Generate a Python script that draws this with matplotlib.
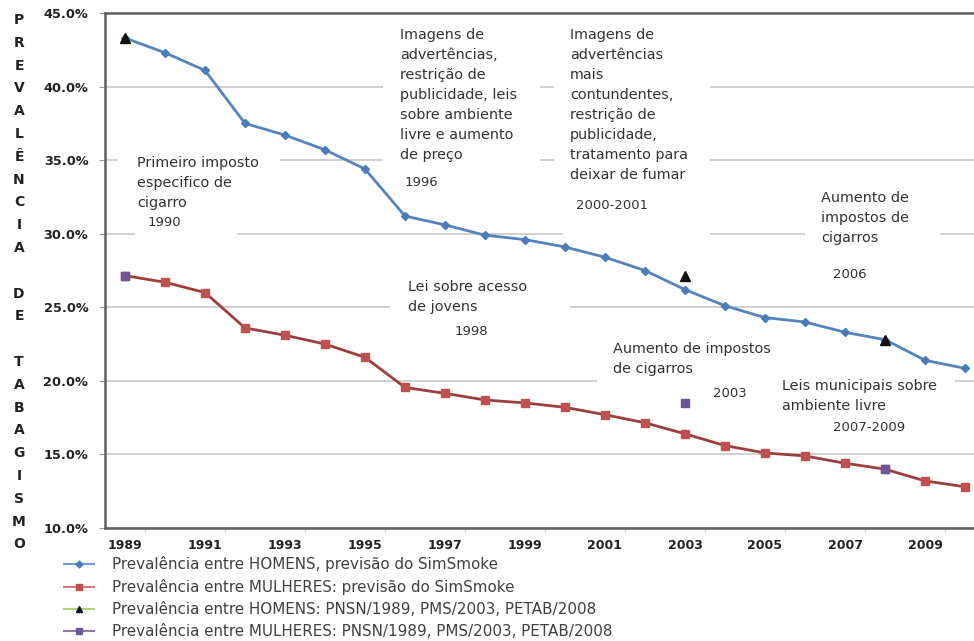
import matplotlib
matplotlib.use("Agg")
import matplotlib.pyplot as plt
from matplotlib.patches import Rectangle
from matplotlib.lines import Line2D

# ---------------- data ----------------
years = list(range(1989, 2011))
men_sim = [43.3, 42.3, 41.1, 37.5, 36.7, 35.7, 34.4, 31.2, 30.6, 29.9, 29.6,
           29.1, 28.4, 27.5, 26.2, 25.1, 24.3, 24.0, 23.3, 22.8, 21.4, 20.85]
women_sim = [27.15, 26.7, 26.0, 23.6, 23.1, 22.5, 21.6, 19.55, 19.15, 18.7, 18.5,
             18.2, 17.7, 17.15, 16.4, 15.6, 15.1, 14.9, 14.4, 14.0, 13.2, 12.8]
survey_years = [1989, 2003, 2008]
men_survey = [43.3, 27.1, 22.8]
women_survey = [27.15, 18.5, 14.0]

yticks = [10, 15, 20, 25, 30, 35, 40, 45]
xtick_years = [1989, 1991, 1993, 1995, 1997, 1999, 2001, 2003, 2005, 2007, 2009]

labels = ["Prevalência entre HOMENS, previsão do SimSmoke",
          "Prevalência entre MULHERES: previsão do SimSmoke",
          "Prevalência entre HOMENS: PNSN/1989, PMS/2003, PETAB/2008",
          "Prevalência entre MULHERES: PNSN/1989, PMS/2003, PETAB/2008"]

ylabel_text = "PREVALÊNCIA DE TABAGISMO"

# ---------------- layout ----------------
W, H = 974, 641
fig = plt.figure(figsize=(W / 100, H / 100), dpi=100)
ax_l, ax_r, ax_t, ax_b = 105, 974, 13, 528
ax = fig.add_axes([ax_l / W, 1 - ax_b / H, (ax_r - ax_l) / W, (ax_b - ax_t) / H])

PX_PER_YEAR = 40.0
x0 = 1988.5
ax.set_xlim(x0, x0 + (ax_r - ax_l) / PX_PER_YEAR)
ax.set_ylim(10, 45)

def dx(px):
    return x0 + (px - ax_l) / PX_PER_YEAR

def dy(py):
    return 45 - (py - ax_t) * 35.0 / (ax_b - ax_t)

# grid
ax.set_axisbelow(True)
ax.yaxis.grid(True, color="#c4c4c4", linewidth=1.1)
ax.xaxis.grid(False)

# spines
for s in ["left", "bottom", "top"]:
    ax.spines[s].set_color("#5f5f5f")
    ax.spines[s].set_linewidth(1.8)
ax.spines["right"].set_visible(False)

ax.set_yticks(yticks)
ax.set_yticklabels([f"{v:.1f}%" for v in yticks], fontsize=9.3, fontweight="bold", color="#222222")
ax.set_xticks(xtick_years)
ax.set_xticklabels([str(y) for y in xtick_years], fontsize=9, fontweight="bold", color="#222222")
ax.tick_params(axis="x", length=0, pad=8)
ax.tick_params(axis="y", length=4, color="#9a9a9a", pad=8)
ax.set_xticks([y + 0.5 for y in xtick_years], minor=True)
ax.tick_params(axis="x", which="minor", length=3, color="#c8c8c8")

# white boxes interrupting the grid (annotation backgrounds)
boxes = [
    (118, 280, 146, 224), (135, 237, 212, 242),
    (383, 540, 20, 196),
    (554, 710, 20, 214), (563, 710, 195, 243),
    (805, 940, 186, 284),
    (390, 570, 276, 342),
    (597, 780, 338, 402),
    (780, 955, 372, 438),
]
for (a, b, c, d) in boxes:
    ax.add_patch(Rectangle((dx(a), dy(d)), dx(b) - dx(a), dy(c) - dy(d),
                           facecolor="white", edgecolor="none", zorder=1))

# data series
ax.plot(years, men_sim, color="#5584bd", linewidth=2, marker="D", markersize=4.5,
        markerfacecolor="#4a7cb8", markeredgecolor="#4a7cb8", zorder=3)
ax.plot(years, women_sim, color="#9c3f3c", linewidth=2, marker="s", markersize=6,
        markerfacecolor="#c0504d", markeredgecolor="#c0504d", zorder=3)
ax.plot(survey_years, men_survey, linestyle="none", marker="^", markersize=6.5,
        markerfacecolor="#111111", markeredgecolor="#111111", zorder=4)
ax.plot(survey_years, women_survey, linestyle="none", marker="s", markersize=6,
        markerfacecolor="#6e5696", markeredgecolor="#6e5696", zorder=4)

# annotations
tc = "#333333"
afs = 10.4
def note(px, py_top, txt, ls=1.55):
    ax.text(dx(px), dy(py_top), txt, ha="left", va="top", fontsize=afs,
            color=tc, linespacing=ls, zorder=5)

def year_note(px_l, py_c, txt):
    ax.text(dx(px_l), dy(py_c), txt, ha="left", va="center", fontsize=9.5,
            color=tc, zorder=5)

note(137, 156, "Primeiro imposto\nespecifico de\ncigarro")
year_note(148, 222, "1990")
note(400, 28, "Imagens de\nadvertências,\nrestrição de\npublicidade, leis\nsobre ambiente\nlivre e aumento\nde preço")
year_note(405, 182, "1996")
note(570, 28, "Imagens de\nadvertências\nmais\ncontundentes,\nrestrição de\npublicidade,\ntratamento para\ndeixar de fumar")
year_note(576, 205, "2000-2001")
note(821, 191, "Aumento de\nimpostos de\ncigarros")
year_note(833, 274, "2006")
note(408, 280, "Lei sobre acesso\nde jovens")
year_note(455, 331, "1998")
note(613, 342, "Aumento de impostos\nde cigarros")
year_note(713, 393, "2003")
note(782, 379, "Leis municipais sobre\nambiente livre")
year_note(833, 427, "2007-2009")

# vertical stacked axis title
step = 22.8
for i, ch in enumerate(ylabel_text):
    if ch == " ":
        continue
    fig.text(19 / W, 1 - (20 + i * step) / H, ch, ha="center", va="center",
             fontsize=10, fontweight="bold", color="#222222")

# legend
handles = [
    Line2D([], [], color="#6f9bd0", linewidth=1.5, marker="D", markersize=3.5,
           markerfacecolor="#4a7cb8", markeredgecolor="#4a7cb8"),
    Line2D([], [], color="#d47a78", linewidth=1.5, marker="s", markersize=5,
           markerfacecolor="#c0504d", markeredgecolor="#c0504d"),
    Line2D([], [], color="#b5cf7a", linewidth=1.5, marker="^", markersize=5,
           markerfacecolor="#111111", markeredgecolor="#111111"),
    Line2D([], [], color="#8f7bb5", linewidth=1.5, marker="s", markersize=5,
           markerfacecolor="#6e5696", markeredgecolor="#6e5696"),
]
leg = fig.legend(handles, labels, loc="upper left", bbox_to_anchor=(64 / W, 1 - 556 / H),
                 frameon=False, fontsize=10.9, handlelength=2.0, handletextpad=1.2,
                 labelspacing=0.47, borderpad=0, borderaxespad=0, numpoints=1)
for t in leg.get_texts():
    t.set_color("#404040")

fig.savefig("out.png", dpi=100)
